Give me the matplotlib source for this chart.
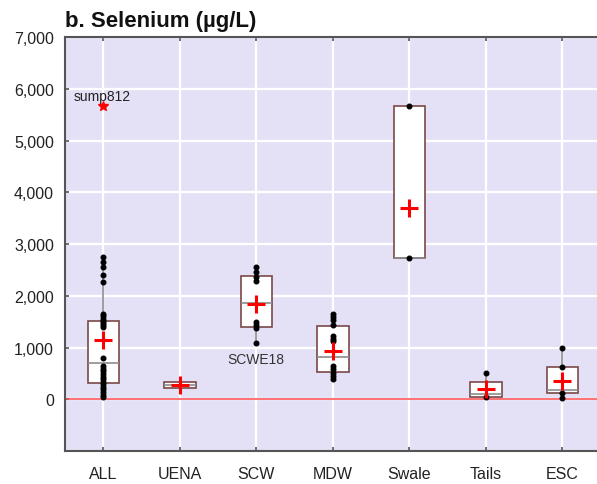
import matplotlib
matplotlib.use("Agg")
import matplotlib.pyplot as plt

plt.rcParams['font.family'] = ['Liberation Sans', 'DejaVu Sans']

# groups and box statistics (µg/L)
groups = ["ALL", "UENA", "SCW", "MDW", "Swale", "Tails", "ESC"]
q1 = [305, 215, 1390, 520, 2725, 50, 130]
med = [710, 276, 1865, 815, 2725, 110, 180]
q3 = [1520, 333, 2376, 1425, 5660, 333, 620]
whislo = [35, 215, 1080, 385, 2725, 44, 30]
whishi = [2750, 333, 2555, 1640, 5660, 514, 996]
means = [1143, 285, 1850, 930, 3705, 193, 353]

# individual samples per group
pts_all = [2750, 2650, 2560, 2400, 2270, 1640, 1600, 1560, 1520, 1480, 1440, 1400,
           803, 640, 590, 540, 490, 440, 390, 340, 290, 240, 190, 140, 90, 35]
pts_uena = []
pts_scw = [2550, 2460, 2360, 2280, 1490, 1426, 1381, 1080]
pts_mdw = [1640, 1586, 1541, 1432, 1220, 1170, 1124, 642, 578, 514, 449, 385]
pts_swale = [5660, 2725]
pts_tails = [514, 44]
pts_esc = [996, 630, 129, 30]
points = [pts_all, pts_uena, pts_scw, pts_mdw, pts_swale, pts_tails, pts_esc]

# labelled outliers
outlier_x = [1]
outlier_y = [5665]
outlier_lbl = ["sump812"]
note_x = [3]
note_y = [1040]
note_lbl = ["SCWE18"]

fig = plt.figure(figsize=(5.97, 4.85), dpi=100)
ax = fig.add_axes([0.109, 0.068, 0.897, 0.8536])
ax.set_facecolor("#e4e1f6")

pos = list(range(1, len(groups) + 1))
stats = []
for i in range(len(groups)):
    stats.append(dict(q1=q1[i], med=med[i], q3=q3[i], whislo=whislo[i],
                      whishi=whishi[i], fliers=[], label=groups[i]))

ax.bxp(stats, positions=pos, widths=0.41, patch_artist=True, showcaps=False,
       boxprops=dict(facecolor="white", edgecolor="#7a4848", linewidth=1.2),
       medianprops=dict(color="#8c8c8c", linewidth=1.2),
       whiskerprops=dict(color="#8c8c8c", linewidth=1.2), zorder=3)

for p, vals in zip(pos, points):
    ax.plot([p] * len(vals), vals, "o", color="black", ms=3.3, zorder=4)

ax.plot(pos, means, "+", color="red", ms=13, mew=2.2, zorder=5)

ax.plot(outlier_x, outlier_y, "*", color="red", ms=7, zorder=5)
for x, y, t in zip(outlier_x, outlier_y, outlier_lbl):
    ax.annotate(t, (x, y), xytext=(-21, 2), textcoords="offset points",
                fontsize=10, color="#222222", va="bottom", ha="left")
for x, y, t in zip(note_x, note_y, note_lbl):
    ax.text(x, y - 270, t, fontsize=10, color="#333333", ha="center", va="center")

ax.axhline(0, color="#ff4a4a", lw=1.1, zorder=2)

ax.set_xlim(0.5, 7.5)
ax.set_ylim(-1000, 7000)
ax.set_yticks(range(0, 8000, 1000))
ax.set_yticklabels([f"{v:,}" for v in range(0, 8000, 1000)])
ax.set_xticks(pos)
ax.set_xticklabels(groups)
ax.grid(True, color="white", lw=1.6, zorder=0)
ax.set_axisbelow(True)
ax.tick_params(axis="both", direction="in", length=3, width=1.2, color="#555555",
               labelsize=11.5, labelcolor="#222222", top=True)
ax.tick_params(axis="x", pad=10.5)
ax.tick_params(axis="y", pad=8)
for s in ax.spines.values():
    s.set_color("#555555")
    s.set_linewidth(1.5)

fig.text(0.109, 0.955, "b. Selenium (µg/L)", fontsize=16, fontweight="bold",
         color="#111111", ha="left", va="center")

fig.savefig("out.png", dpi=100)
